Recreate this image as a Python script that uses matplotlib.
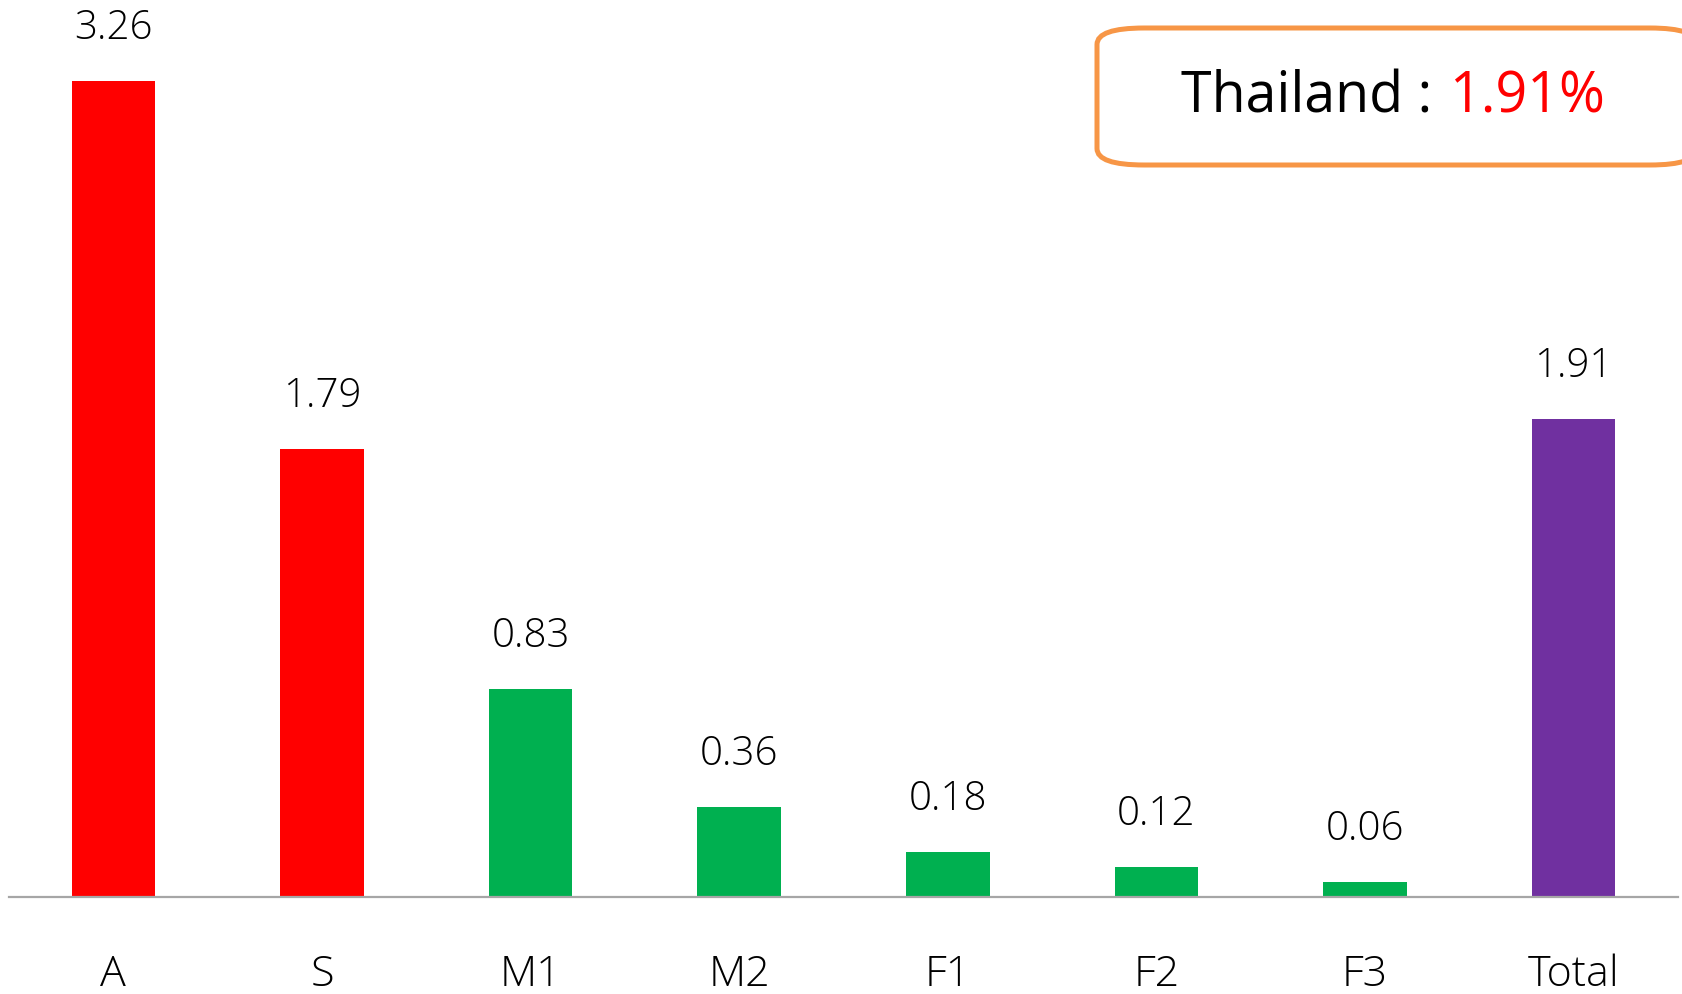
import matplotlib.pyplot as plt
from matplotlib.patches import FancyBboxPatch

# data
categories = ['A', 'S', 'M1', 'M2', 'F1', 'F2', 'F3', 'Total']
values = [3.26, 1.79, 0.83, 0.36, 0.18, 0.12, 0.06, 1.91]
bar_colors = ['#FF0000', '#FF0000', '#00B050', '#00B050', '#00B050', '#00B050', '#00B050', '#7030A0']
country = 'Thailand'
country_total = '1.91%'

plt.rcParams['font.family'] = ['Open Sans', 'DejaVu Sans']

W, H = 1683, 994
fig = plt.figure(figsize=(W / 100, H / 100), dpi=100)
# axes spans from the grey baseline (y=897 px from top) up to the top edge
ax = fig.add_axes([9 / W, 1 - 897 / H, (1678 - 9) / W, 897 / H])

x = range(len(categories))
ax.bar(x, values, width=0.40, color=bar_colors, zorder=2)
ax.set_xlim(-0.5, 7.5)
ax.set_ylim(0, 897 / 250.2)

for xi, v in zip(x, values):
    ax.annotate(f'{v:.2f}', (xi, v), xytext=(0, 38), textcoords='offset points',
                ha='center', va='center', fontsize=29, fontweight='light', color='black')

ax.set_xticks(list(x))
ax.set_xticklabels(categories, fontsize=31, fontweight='light')
ax.tick_params(axis='x', length=0, pad=40.5)
ax.set_yticks([])
for side in ['top', 'right', 'left']:
    ax.spines[side].set_visible(False)
ax.spines['bottom'].set_color('#A6A6A6')
ax.spines['bottom'].set_linewidth(1.6)
ax.patch.set_visible(False)

# rounded box at the top right
box = FancyBboxPatch((1097 / W, 1 - 165 / H), (600) / W, (137) / H,
                     boxstyle='round,pad=0,rounding_size=0.028',
                     transform=fig.transFigure, facecolor='white',
                     edgecolor='#F79646', linewidth=3.6, mutation_aspect=H / W)
fig.patches.append(box)
fig.text(1432 / W, 1 - 98 / H, country + ' :', ha='right', va='center',
         fontsize=40, color='black')
fig.text(1449 / W, 1 - 98 / H, country_total, ha='left', va='center',
         fontsize=40, color='#FF0000')

fig.savefig('out.png', dpi=100)
